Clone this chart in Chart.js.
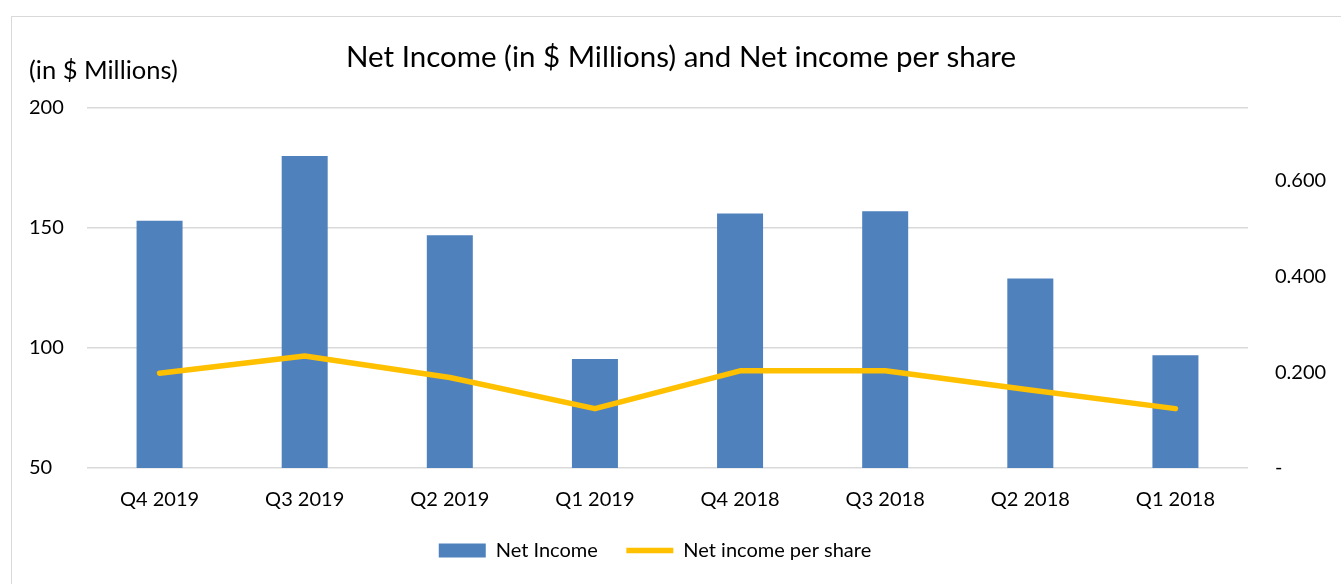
<!DOCTYPE html>
<html>
<head>
<meta charset="utf-8">
<script src="https://cdn.jsdelivr.net/npm/chart.js@4.4.1/dist/chart.umd.min.js"></script>
<style>
  html, body { margin: 0; padding: 0; background: #fff; }
  #frame { position: absolute; left: 11px; top: 16px; width: 1400px; height: 700px; border: 1px solid #d9d9d9; }
  #wrap { position: absolute; left: 0; top: 0; width: 1341px; height: 584px; }
</style>
</head>
<body>
<div id="frame"></div>
<div id="wrap"><canvas id="chart" width="1341" height="584"></canvas></div>
<script>
const quarters = ['Q4 2019', 'Q3 2019', 'Q2 2019', 'Q1 2019', 'Q4 2018', 'Q3 2018', 'Q2 2018', 'Q1 2018'];
const netIncome = [153, 180, 147, 95.4, 156, 157, 129, 97];
const perShare = [0.198, 0.234, 0.189, 0.124, 0.203, 0.203, 0.163, 0.124];
const leftTicks = [50, 100, 150, 200];
const rightTicks = [0, 0.2, 0.4, 0.6];

const chartTitle = 'Net Income (in $ Millions) and Net income per share';
const axisTitle = '(in $ Millions)';

Chart.defaults.font.family = 'Lato';
Chart.defaults.color = '#000';

// title and the unit label above the left axis
const headerText = {
    id: 'headerText',
    afterDraw(chart) {
        const ctx = chart.ctx;
        ctx.save();
        ctx.fillStyle = '#000';
        ctx.textBaseline = 'middle';
        ctx.font = '29.5px Lato';
        ctx.textAlign = 'center';
        ctx.fillText(chartTitle, 681, 57);
        ctx.font = '25.5px Lato';
        ctx.textAlign = 'left';
        ctx.fillText(axisTitle, 29, 71);
        ctx.restore();
    }
};

// legend sits a bit left of the canvas centre, like the original
const legendShift = {
    id: 'legendShift',
    afterLayout(chart) {
        chart.legend.left -= 30;
        chart.legend.right -= 30;
    }
};

new Chart(document.getElementById('chart'), {
    type: 'bar',
    data: {
        labels: quarters,
        datasets: [{
                type: 'line',
                label: 'Net income per share',
                data: perShare,
                yAxisID: 'y1',
                borderColor: '#FFC000',
                backgroundColor: '#FFC000',
                borderWidth: 5.5,
                borderCapStyle: 'round',
                borderJoinStyle: 'round',
                pointRadius: 0,
                pointStyle: 'line',
                tension: 0
            },
            {
                label: 'Net Income',
                data: netIncome,
                yAxisID: 'y',
                backgroundColor: '#4F81BD',
                borderWidth: 0,
                pointStyle: 'rect',
                barPercentage: 0.317,
                categoryPercentage: 1
            }
        ]
    },
    options: {
        responsive: false,
        animation: false,
        devicePixelRatio: 1,
        layout: {
            padding: { top: 108, left: 29, right: 0, bottom: 13.5 }
        },
        plugins: {
            title: { display: false },
            tooltip: { enabled: false },
            legend: {
                position: 'bottom',
                labels: {
                    usePointStyle: true,
                    pointStyleWidth: 47,
                    boxHeight: 14,
                    padding: 28.5,
                    font: { size: 20 },
                    sort: (a, b) => b.datasetIndex - a.datasetIndex
                }
            }
        },
        scales: {
            x: {
                grid: { display: false, drawTicks: false },
                border: { display: false },
                ticks: { font: { size: 20 }, padding: 20, maxRotation: 0 },
                afterFit(scale) { scale.height = 44; }
            },
            y: {
                position: 'left',
                min: 50,
                max: 200,
                grid: { color: '#d9d9d9', lineWidth: 1.5, drawTicks: false },
                border: { display: false },
                ticks: { font: { size: 20 }, crossAlign: 'far' },
                afterBuildTicks(scale) { scale.ticks = leftTicks.map(v => ({ value: v })); },
                afterFit(scale) { scale.width = 58; }
            },
            y1: {
                position: 'right',
                min: 0,
                max: 0.752,
                grid: { drawOnChartArea: false, drawTicks: false },
                border: { display: false },
                ticks: {
                    font: { size: 20 },
                    padding: 27,
                    callback: v => v === 0 ? '-' : v.toFixed(3)
                },
                afterBuildTicks(scale) { scale.ticks = rightTicks.map(v => ({ value: v })); },
                afterFit(scale) { scale.width = 93; }
            }
        }
    },
    plugins: [headerText, legendShift]
});
</script>
</body>
</html>
